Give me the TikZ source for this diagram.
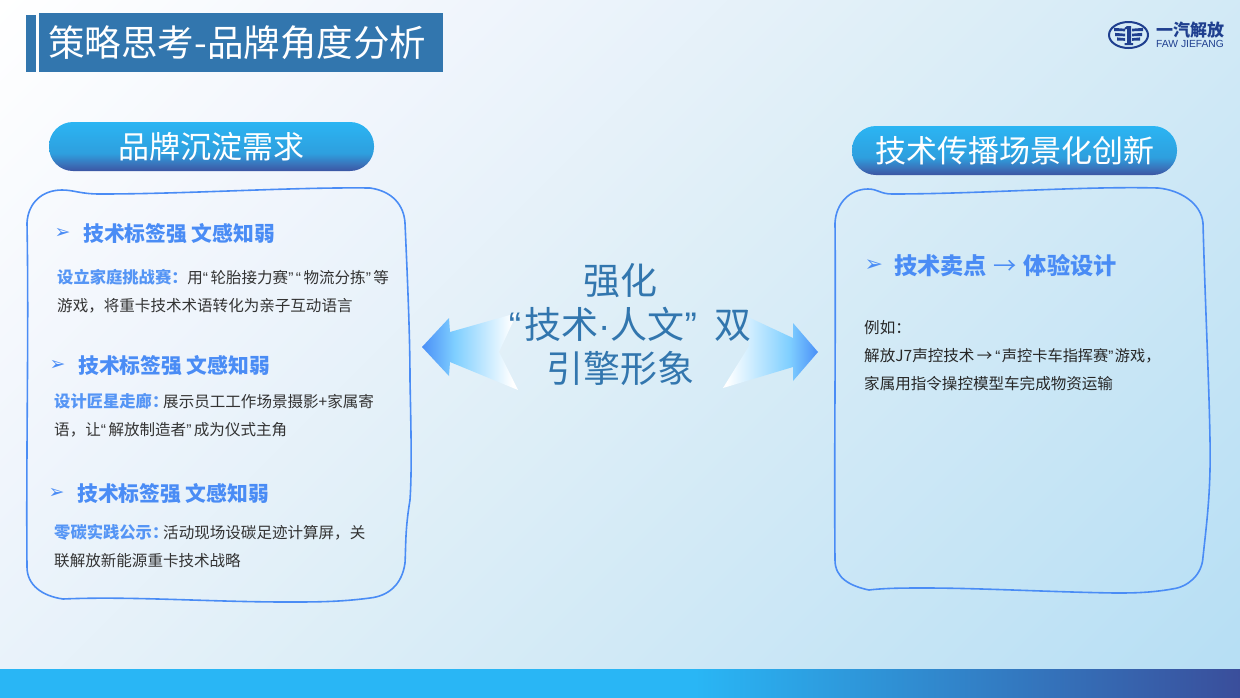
\documentclass[tikz,border=0pt]{standalone}
\usepackage{fontspec}
\setmainfont{Noto Sans CJK SC}
\newfontfamily\qfont{Liberation Sans}
\newfontfamily\bulfont{DejaVu Sans}
\def\LQ{{\qfont “}\kern.16em}
\def\RQ{{\qfont ”}\kern.16em}
\definecolor{navy}{HTML}{3276AE}
\definecolor{hblue}{HTML}{4A8CF5}
\definecolor{kwblue}{HTML}{5595F5}
\definecolor{bodyc}{HTML}{333333}
\definecolor{logoc}{HTML}{1F3F8F}
\definecolor{pb}{HTML}{3B55A3}
\definecolor{pn}{HTML}{3A72BA}
\definecolor{pm}{HTML}{2E9FDE}
\definecolor{pt}{HTML}{2BB5F3}
\definecolor{aa}{HTML}{4A8FF7}
\definecolor{ab}{HTML}{7FCFFF}
\definecolor{bga}{HTML}{F0F5FC}
\definecolor{bgm}{HTML}{DDEEF7}
\definecolor{bge}{HTML}{B5DEF4}
\definecolor{bara}{HTML}{29B6F5}
\definecolor{barb}{HTML}{3A4E9B}
\pgfdeclareverticalshading{pillsh}{100bp}{color(0bp)=(pb);color(25bp)=(pb);color(32bp)=(pn);color(43bp)=(pm);color(75bp)=(pt);color(100bp)=(pt)}
\pgfdeclarehorizontalshading{arrL}{100bp}{color(0bp)=(aa);color(25bp)=(aa);color(42bp)=(ab);color(72bp)=(white);color(100bp)=(white)}
\pgfdeclarehorizontalshading{arrR}{100bp}{color(0bp)=(white);color(27bp)=(white);color(60bp)=(ab);color(75bp)=(aa);color(100bp)=(aa)}
\pgfdeclarehorizontalshading{barsh}{100bp}{color(0bp)=(bara);color(53bp)=(bara);color(75bp)=(barb);color(100bp)=(barb)}
\pgfdeclarehorizontalshading{bgsh}{100bp}{color(0bp)=(white);color(25bp)=(white);color(37.5bp)=(bga);color(50bp)=(bgm);color(75bp)=(bge);color(100bp)=(bge)}
\tikzset{
 pill/.style={rounded corners=24pt,shade,shading=pillsh,minimum width=325pt,minimum height=49pt,inner sep=0pt,text=white,font=\fontsize{31}{36}\selectfont},
 wob/.style={draw=hblue,line width=1.6pt},
 head/.style={anchor=west,inner sep=0pt,text=hblue,font=\fontsize{20.8}{24}\selectfont\bfseries},
 bul/.style={anchor=west,inner sep=0pt,text=hblue,font=\fontsize{19}{22}\bulfont},
 body/.style={anchor=west,inner sep=0pt,text=bodyc,align=left,font=\fontsize{15.55}{28}\selectfont},
}
\newcommand{\kw}[2]{{\bfseries\color{kwblue}\fontsize{16.3}{28}\selectfont #2\makebox[#1][l]{：}}}
\begin{document}
\begin{tikzpicture}[x=1pt,y=-1pt]
\useasboundingbox (0,0) rectangle (1240,697);
% background
\begin{scope}
\clip (0,0) rectangle (1240,697);
\begin{scope}[transform canvas={rotate around={-45:(620,348.5)}}]
\shade[shading=bgsh] (-65,-336.5) rectangle (1305,1033.5);
\end{scope}
\end{scope}
% bottom bar
\shade[shading=barsh] (0,669) rectangle (1240,697);
% title
\fill[navy] (26,15) rectangle (36,72);
\node[fill=navy,anchor=north west,minimum width=404pt,minimum height=59pt,inner sep=0pt,text=white,font=\fontsize{36.5}{44}\selectfont] (title) at (39,13) {\raisebox{2pt}{策略思考-品牌角度分析}\hspace*{8pt}};
% logo
\draw[logoc,line width=2pt] (1128.5,35) ellipse [x radius=19.5,y radius=13];
\foreach \yy/\ww in {30/11,35/10,39.5/8}{
  \fill[logoc] (1125,\yy-1.3) -- (1125-\ww,\yy-1.3-0.8) -- (1125-\ww,\yy+1) -- (1125,\yy+1.3) -- cycle;
  \fill[logoc] (1132,\yy-1.3) -- (1132+\ww,\yy-1.3-0.8) -- (1132+\ww,\yy+1) -- (1132,\yy+1.3) -- cycle;
}
\fill[logoc] (1127,26) -- (1131,26) -- (1131,43) -- (1133,43) -- (1133,45) -- (1124.5,45) -- (1124.5,43) -- (1127,43) -- (1127,29) -- (1124.5,29.5) -- (1124.5,28) -- cycle;
\node[anchor=west,inner sep=0pt,text=logoc,font=\fontsize{17}{20}\selectfont\bfseries] (logocn) at (1156,30.5) {一汽解放};
\node[anchor=west,inner sep=0pt,text=logoc,font=\fontsize{10.3}{12}\qfont] (logoen) at (1156,43.8) {FAW JIEFANG};
% pills
\node (lpill) [pill] at (211.5,146.5) {\raisebox{-.7pt}{品牌沉淀需求}};
\node (rpill) [pill] at (1014.5,150.5) {\raisebox{-.7pt}{技术传播场景化创新}};
% boxes
\draw[wob] (27,223) .. controls (28,203) and (42,190) .. (62,190) .. controls (74,190) and (80,194) .. (100,194) .. controls (190,194) and (290,187) .. (370,188) .. controls (392,191) and (404,205) .. (405,223) .. controls (408,290) and (410,340) .. (410,380) .. controls (411,430) and (412,470) .. (410,500) .. controls (405,530) and (406,545) .. (405,563) .. controls (402,585) and (388,596) .. (370,598) .. controls (340,602) and (315,602) .. (287,602) .. controls (210,602) and (130,596) .. (63,599) .. controls (42,596) and (27,585) .. (27,567) .. controls (26,450) and (29,330) .. (27,223) -- cycle;
\draw[wob] (835,223) .. controls (836,203) and (850,189) .. (868,189) .. controls (878,189) and (880,194) .. (892,194) .. controls (980,194) and (1080,186) .. (1158,188) .. controls (1180,190) and (1201,203) .. (1203,223) .. controls (1205,300) and (1209,380) .. (1210,440) .. controls (1211,490) and (1207,520) .. (1203,557) .. controls (1202,575) and (1188,587) .. (1172,589) .. controls (1150,593) and (1130,593) .. (1115,593) .. controls (1050,592) and (980,588) .. (925,588) .. controls (905,588) and (885,588) .. (869,590) .. controls (850,586) and (835,578) .. (835,560) .. controls (834,450) and (836,330) .. (835,223) -- cycle;
% arrows
\shade[shading=arrL] (422,347) -- (449,318) -- (450,332) -- (517,313) -- (499,352) -- (518,390) -- (450,362) -- (449,376) -- cycle;
\shade[shading=arrR] (818,352) -- (793,323) -- (793,338) -- (748,317) -- (749,346) -- (723,388) -- (793,367) -- (793,381) -- cycle;
% centre text
\node[inner sep=0pt,align=center,text=navy,font=\fontsize{37}{44}\selectfont] (centre) at (620,325) {强化\\\hspace*{20pt}\LQ\kern-3pt 技术{\qfont ·}人文\RQ\ \kern3pt 双\\引擎形象};
% left box text
\node (b1) [bul] at (54.5,233.5) {➢};
\node (h1) [head] at (83,233.7) {技术标签强 文感知弱};
\node (t1) [body] at (57,291.6) {\kw{16pt}{设立家庭挑战赛}用\LQ 轮胎接力赛\RQ\LQ 物流分拣\RQ 等\\游戏，将重卡技术术语转化为亲子互动语言};
\node (b2) [bul] at (49.5,365.5) {➢};
\node (h2) [head] at (78,365.7) {技术标签强 文感知弱};
\node (t2) [body] at (54,415.7) {\kw{11.2pt}{设计匠星走廊}展示员工工作场景摄影+家属寄\\语，让\LQ 解放制造者\RQ 成为仪式主角};
\node (b3) [bul] at (48.5,493.5) {➢};
\node (h3) [head] at (77,493.7) {技术标签强 文感知弱};
\node (t3) [body] at (54,546) {\kw{11.2pt}{零碳实践公示}活动现场设碳足迹计算屏，关\\联解放新能源重卡技术战略};
% right box text
\node (b4) [bul,font=\fontsize{22}{24}\bulfont] at (864.5,265.5) {➢};
\node (h4) [head,font=\fontsize{23.2}{26}\selectfont\bfseries] at (894,265.7) {技术卖点\kern1pt{} {\mdseries →}\kern2pt{} 体验设计};
\node (t4) [body,text=black!85] at (864,355.7) {例如：\\解放J7声控技术\kern-1pt{} →\kern-.5pt{} {\fontsize{15.2}{28}\selectfont\LQ\kern-1pt 声控卡车指挥赛\RQ\kern-1pt 游戏，}\\家属用指令操控模型车完成物资运输};
\end{tikzpicture}
\end{document}
